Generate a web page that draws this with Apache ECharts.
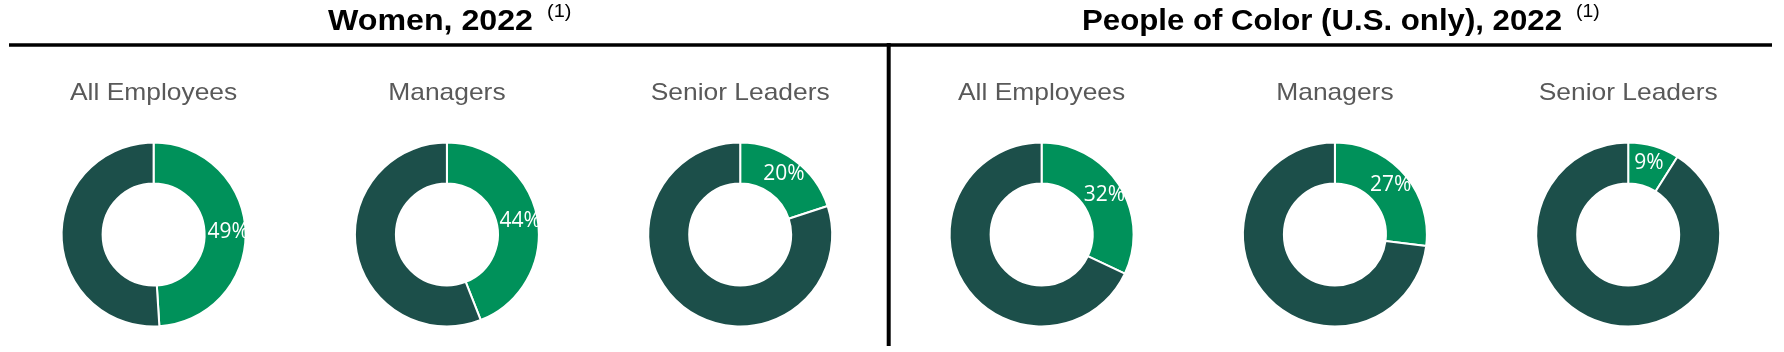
<!DOCTYPE html>
<html>
<head>
<meta charset="utf-8">
<script src="https://cdn.jsdelivr.net/npm/echarts@6/dist/echarts.min.js"></script>
<style>
  html, body { margin: 0; padding: 0; background: #fff; }
  #chart { width: 1784px; height: 352px; }
</style>
</head>
<body>
<div id="chart"></div>
<script>
// data
const groupTitles = ['Women, 2022', 'People of Color (U.S. only), 2022'];
const footnote = '(1)';
const levels = ['All Employees', 'Managers', 'Senior Leaders'];
const womenPct = [49, 44, 20];
const pocPct = [32, 27, 9];

const LIGHT = '#00915a';
const DARK = '#1c4f4a';
const GREY = '#595959';

// layout (pixels)
const titleLeft = [328, 1082];
const titleWidth = [205, 480];
const groupShift = [0, 888];
const firstX = 153.6;
const step = 293.3;
const donutY = 234.5;
const SUB_SX = 1.1;
const FONT = '"Liberation Sans", Arial, sans-serif';

const chart = echarts.init(document.getElementById('chart'));

const ctx = document.createElement('canvas').getContext('2d');
function textWidth(str, font) {
  ctx.font = font;
  return ctx.measureText(str).width;
}

const graphics = [
  { type: 'line', shape: { x1: 9, y1: 45, x2: 1772, y2: 45 }, style: { stroke: '#000', lineWidth: 3.5 }, silent: true },
  { type: 'line', shape: { x1: 888.7, y1: 43, x2: 888.7, y2: 346 }, style: { stroke: '#000', lineWidth: 4 }, silent: true },
];

groupTitles.forEach((t, g) => {
  const sx = titleWidth[g] / textWidth(t, 'bold 29px "Liberation Sans"');
  graphics.push({
    type: 'text', x: titleLeft[g], y: 22, scaleX: sx, silent: true,
    style: {
      text: t, fontSize: 29, fontWeight: 'bold', fontFamily: FONT,
      fill: '#000', align: 'left', verticalAlign: 'middle', textAlign: 'left', textVerticalAlign: 'middle'
    }
  });
  graphics.push({
    type: 'text', x: titleLeft[g] + titleWidth[g] + 14, y: 12, scaleX: sx, silent: true,
    style: {
      text: footnote, fontSize: 18, fontFamily: FONT,
      fill: '#000', align: 'left', verticalAlign: 'middle', textAlign: 'left', textVerticalAlign: 'middle'
    }
  });
});

const series = [];
[womenPct, pocPct].forEach((vals, g) => {
  vals.forEach((v, i) => {
    const cx = firstX + groupShift[g] + i * step;
    graphics.push({
      type: 'text', x: cx, y: 93, scaleX: SUB_SX, silent: true,
      style: {
        text: levels[i], fontSize: 24, fontFamily: FONT,
        fill: GREY, align: 'center', verticalAlign: 'middle', textAlign: 'center', textVerticalAlign: 'middle'
      }
    });
    series.push({
      type: 'pie',
      center: [cx, donutY],
      radius: [51, 92],
      startAngle: 90,
      clockwise: true,
      silent: true,
      animation: false,
      itemStyle: { borderColor: '#fff', borderWidth: 2 },
      label: {
        show: true, position: 'inside', formatter: '{c}%',
        color: '#fff', fontFamily: '"Open Sans", sans-serif', fontSize: 21
      },
      labelLine: { show: false },
      data: [
        { value: v, name: levels[i], itemStyle: { color: LIGHT } },
        { value: 100 - v, name: 'Other', itemStyle: { color: DARK }, label: { show: false } }
      ]
    });
  });
});

chart.setOption({
  backgroundColor: '#fff',
  animation: false,
  graphic: graphics,
  series: series
});
</script>
</body>
</html>
